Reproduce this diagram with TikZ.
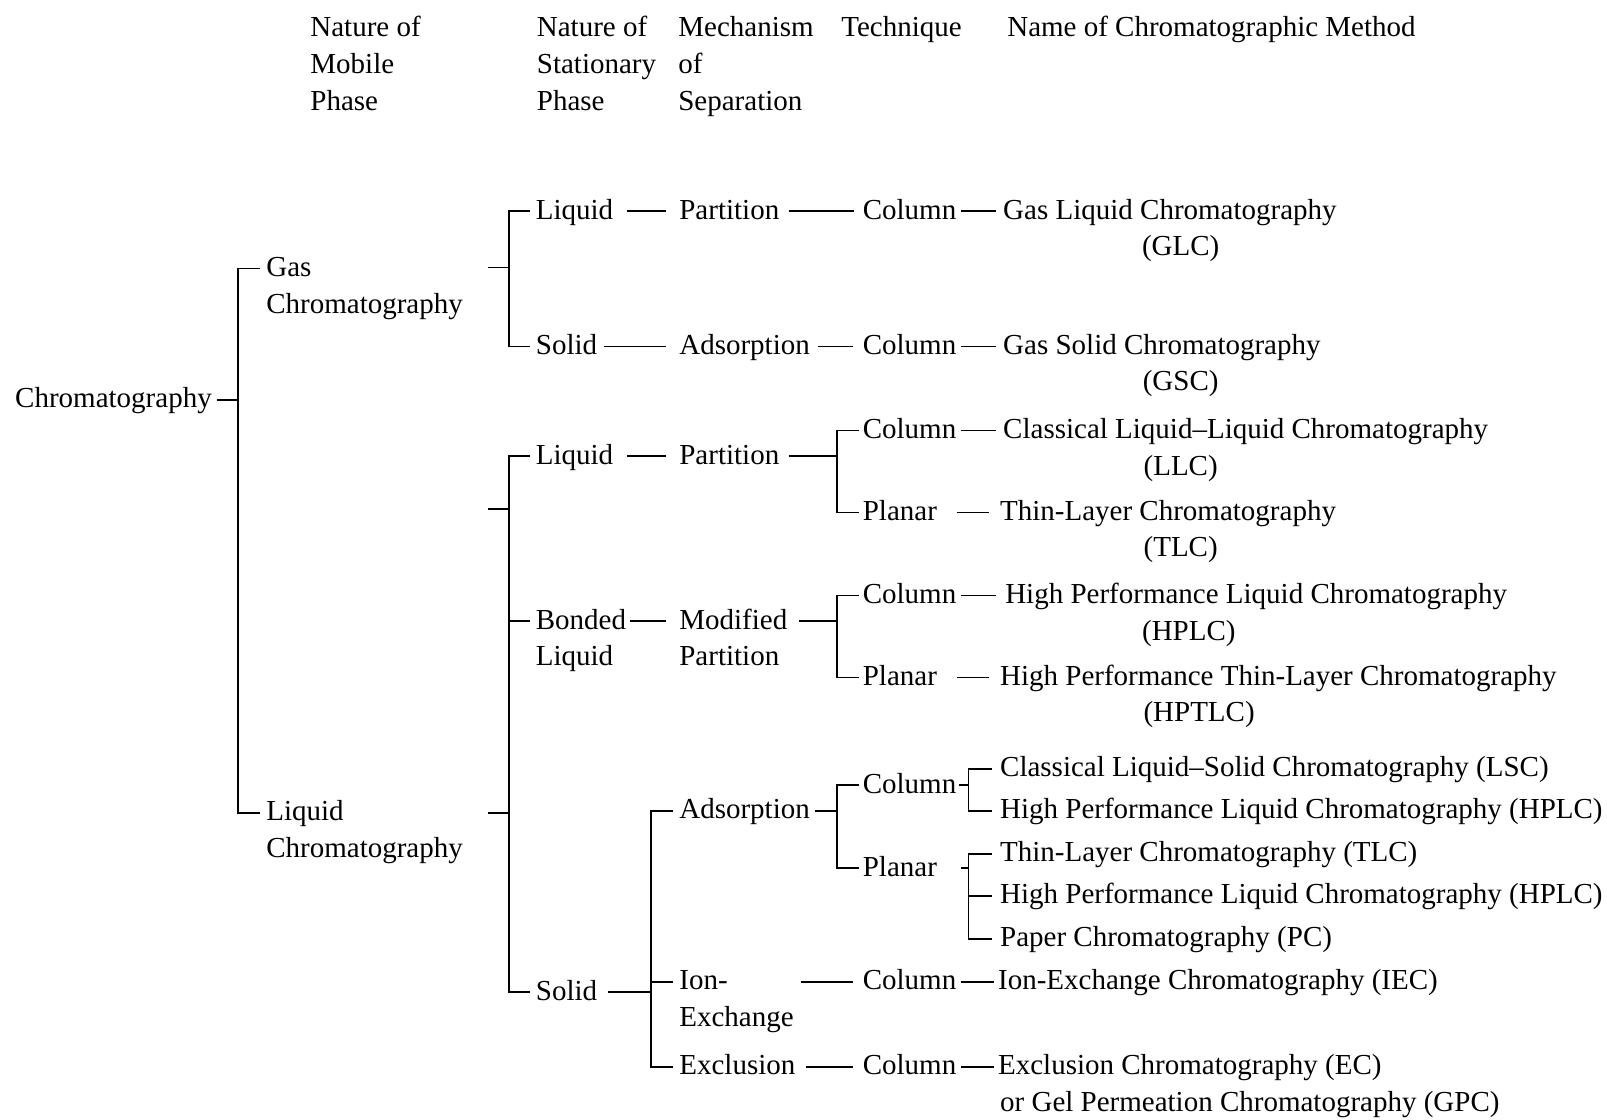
\documentclass[tikz,border=0pt]{standalone}
\usepackage{fontspec}
\setmainfont{Liberation Serif}
\begin{document}
\begin{tikzpicture}[x=0.51245pt, y=-0.51245pt,
  font=\fontsize{14.5pt}{18pt}\selectfont,
  txt/.style={anchor=west, inner sep=0pt, text height=0.9em, text depth=0.1em},
  ctr/.style={txt, anchor=center},
  every path/.style={line width=0.9pt}]
\useasboundingbox (0,0) rectangle (1568,1092);
% headers
\node[txt] (h1a) at (302,28) {Nature of};
\node[txt] (h1b) at (302,64) {Mobile};
\node[txt] (h1c) at (302,100) {Phase};
\node[txt] (h2a) at (523,28) {Nature of};
\node[txt] (h2b) at (523,64) {Stationary};
\node[txt] (h2c) at (523,100) {Phase};
\node[txt] (h3a) at (661,28) {Mechanism};
\node[txt] (h3b) at (661,64) {of};
\node[txt] (h3c) at (661,100) {Separation};
\node[txt] (h4) at (820,28) {Technique};
\node[txt] (h5) at (982,28) {Name of Chromatographic Method};
% level 0/1
\node[txt] (chrom) at (14,390) {Chromatography};
\node[txt] (gas) at (259,262) {Gas};
\node[txt] (gas2) at (259,298) {Chromatography};
\node[txt] (lc) at (259,793) {Liquid};
\node[txt] (lc2) at (259,829) {Chromatography};
% gas branch
\node[txt] (gl) at (522,206) {Liquid};
\node[txt] (gp) at (662,206) {Partition};
\node[txt] (gc) at (841,206) {Column};
\node[txt] (glc) at (978,206) {Gas Liquid Chromatography};
\node[ctr] (glcab) at (1152,241) {(GLC)};
\node[txt] (gs) at (522,338) {Solid};
\node[txt] (ga) at (662,338) {Adsorption};
\node[txt] (gc2) at (841,338) {Column};
\node[txt] (gsc) at (978,338) {Gas Solid Chromatography};
\node[ctr] (gscab) at (1152,373) {(GSC)};
% liquid branch
\node[txt] (ll) at (522,445) {Liquid};
\node[txt] (lp) at (662,445) {Partition};
\node[txt] (lpc) at (841,420) {Column};
\node[txt] (llc) at (978,420) {Classical Liquid–Liquid Chromatography};
\node[ctr] (llcab) at (1152,456) {(LLC)};
\node[txt] (lpp) at (841,500) {Planar};
\node[txt] (tlc) at (975,500) {Thin-Layer Chromatography};
\node[ctr] (tlcab) at (1152,535) {(TLC)};
\node[txt] (bl) at (522,606) {Bonded};
\node[txt] (bl2) at (522,642) {Liquid};
\node[txt] (mp) at (662,606) {Modified};
\node[txt] (mp2) at (662,642) {Partition};
\node[txt] (mpc) at (841,581) {Column};
\node[txt] (hplc) at (980,581) {High Performance Liquid Chromatography};
\node[ctr] (hplcab) at (1160,617) {(HPLC)};
\node[txt] (mpp) at (841,661) {Planar};
\node[txt] (hptlc) at (975,661) {High Performance Thin-Layer Chromatography};
\node[ctr] (hptlcab) at (1170,696) {(HPTLC)};
\node[txt] (ls) at (522,968) {Solid};
\node[txt] (ad) at (662,791) {Adsorption};
\node[txt] (adc) at (841,766) {Column};
\node[txt] (lsc) at (975,750) {Classical Liquid–Solid Chromatography (LSC)};
\node[txt] (hplc2) at (975,791) {High Performance Liquid Chromatography (HPLC)};
\node[txt] (adp) at (841,847) {Planar};
\node[txt] (tlc2) at (975,833) {Thin-Layer Chromatography (TLC)};
\node[txt] (hplc3) at (975,874) {High Performance Liquid Chromatography (HPLC)};
\node[txt] (pc) at (975,916) {Paper Chromatography (PC)};
\node[txt] (ion) at (662,958) {Ion-};
\node[txt] (ion2) at (662,994) {Exchange};
\node[txt] (ionc) at (841,958) {Column};
\node[txt] (iec) at (973,958) {Ion-Exchange Chromatography (IEC)};
\node[txt] (ex) at (662,1041) {Exclusion};
\node[txt] (exc) at (841,1041) {Column};
\node[txt] (ec) at (973,1041) {Exclusion Chromatography (EC)};
\node[txt] (gpc) at (975,1077) {or Gel Permeation Chromatography (GPC)};
% junction coordinates
\coordinate (j1) at (232,390);
\coordinate (j2) at (497,261);
\coordinate (s2) at (476,261);
\coordinate (j3) at (497,497);
\coordinate (s3) at (476,497);
\coordinate (j4) at (497,793);
\coordinate (s4) at (476,793);
\coordinate (j5) at (817,445);
\coordinate (j6) at (817,606);
\coordinate (j7) at (635,968);
\coordinate (j8) at (817,791);
\coordinate (j9) at (945,766);
\coordinate (j10) at (945,847);
% level 1 bracket
\draw[shorten <=2pt] (chrom) -- (j1);
\draw[shorten <=2.5pt] (gas) -| (j1);
\draw[shorten <=2.5pt] (lc) -| (j1);
% gas bracket
\draw (s2) -- (j2);
\draw[shorten <=2.5pt] (gl) -| (j2);
\draw[shorten <=2.5pt] (gs) -| (j2);
\draw[shorten <=6.4pt, shorten >=6pt] (gl) -- (gp);
\draw[shorten <=4.4pt, shorten >=4pt] (gp) -- (gc);
\draw[shorten <=2pt, shorten >=3pt] (gc) -- (glc);
\draw[shorten <=3pt, shorten >=6pt] (gs) -- (ga);
\draw[shorten <=3.6pt, shorten >=4.6pt] (ga) -- (gc2);
\draw[shorten <=2pt, shorten >=3pt] (gc2) -- (gsc);
% liquid bracket
\draw (s3) -- (j3);
\draw (s4) -- (j4);
\draw[shorten <=2.5pt] (ll) -| (j3);
\draw[shorten <=2.5pt] (bl) -| (j3);
\draw[shorten <=2.5pt] (ls) -| (j3);
\draw[shorten <=6.4pt, shorten >=6pt] (ll) -- (lp);
\draw[shorten <=4.4pt] (lp) -- (j5);
\draw[shorten <=1.5pt] (lpc) -| (j5);
\draw[shorten <=1.5pt] (lpp) -| (j5);
\draw[shorten <=2pt, shorten >=3pt] (lpc) -- (llc);
\draw[shorten <=9.7pt, shorten >=5pt] (lpp) -- (tlc);
\draw[shorten <=1.5pt, shorten >=6pt] (bl) -- (mp);
\draw[shorten <=5.6pt] (mp) -- (j6);
\draw[shorten <=1.5pt] (mpc) -| (j6);
\draw[shorten <=1.5pt] (mpp) -| (j6);
\draw[shorten <=2pt, shorten >=4pt] (mpc) -- (hplc);
\draw[shorten <=9.7pt, shorten >=5pt] (mpp) -- (hptlc);
% solid bracket
\draw[shorten <=5pt] (ls) -- (j7);
\draw[shorten <=2.5pt] (ad) -| (j7);
\draw[shorten <=2.5pt] (ion) -| (j7);
\draw[shorten <=2.5pt] (ex) -| (j7);
\draw[shorten <=2pt] (ad) -- (j8);
\draw[shorten <=1.5pt] (adc) -| (j8);
\draw[shorten <=1.5pt] (adp) -| (j8);
\draw[shorten <=1pt] (adc) -- (j9);
\draw[shorten <=3.5pt] (lsc) -| (j9);
\draw[shorten <=3.5pt] (hplc2) -| (j9);
\draw[shorten <=11.8pt] (adp) -- (j10);
\draw[shorten <=3.5pt] (tlc2) -| (j10);
\draw[shorten <=3.5pt] (hplc3) -| (j10);
\draw[shorten <=3.5pt] (pc) -| (j10);
\draw[shorten <=36pt, shorten >=4.6pt] (ion) -- (ionc);
\draw[shorten <=2pt, shorten >=1.5pt] (ionc) -- (iec);
\draw[shorten <=5pt, shorten >=4.6pt] (ex) -- (exc);
\draw[shorten <=2pt, shorten >=1.5pt] (exc) -- (ec);
\end{tikzpicture}
\end{document}
